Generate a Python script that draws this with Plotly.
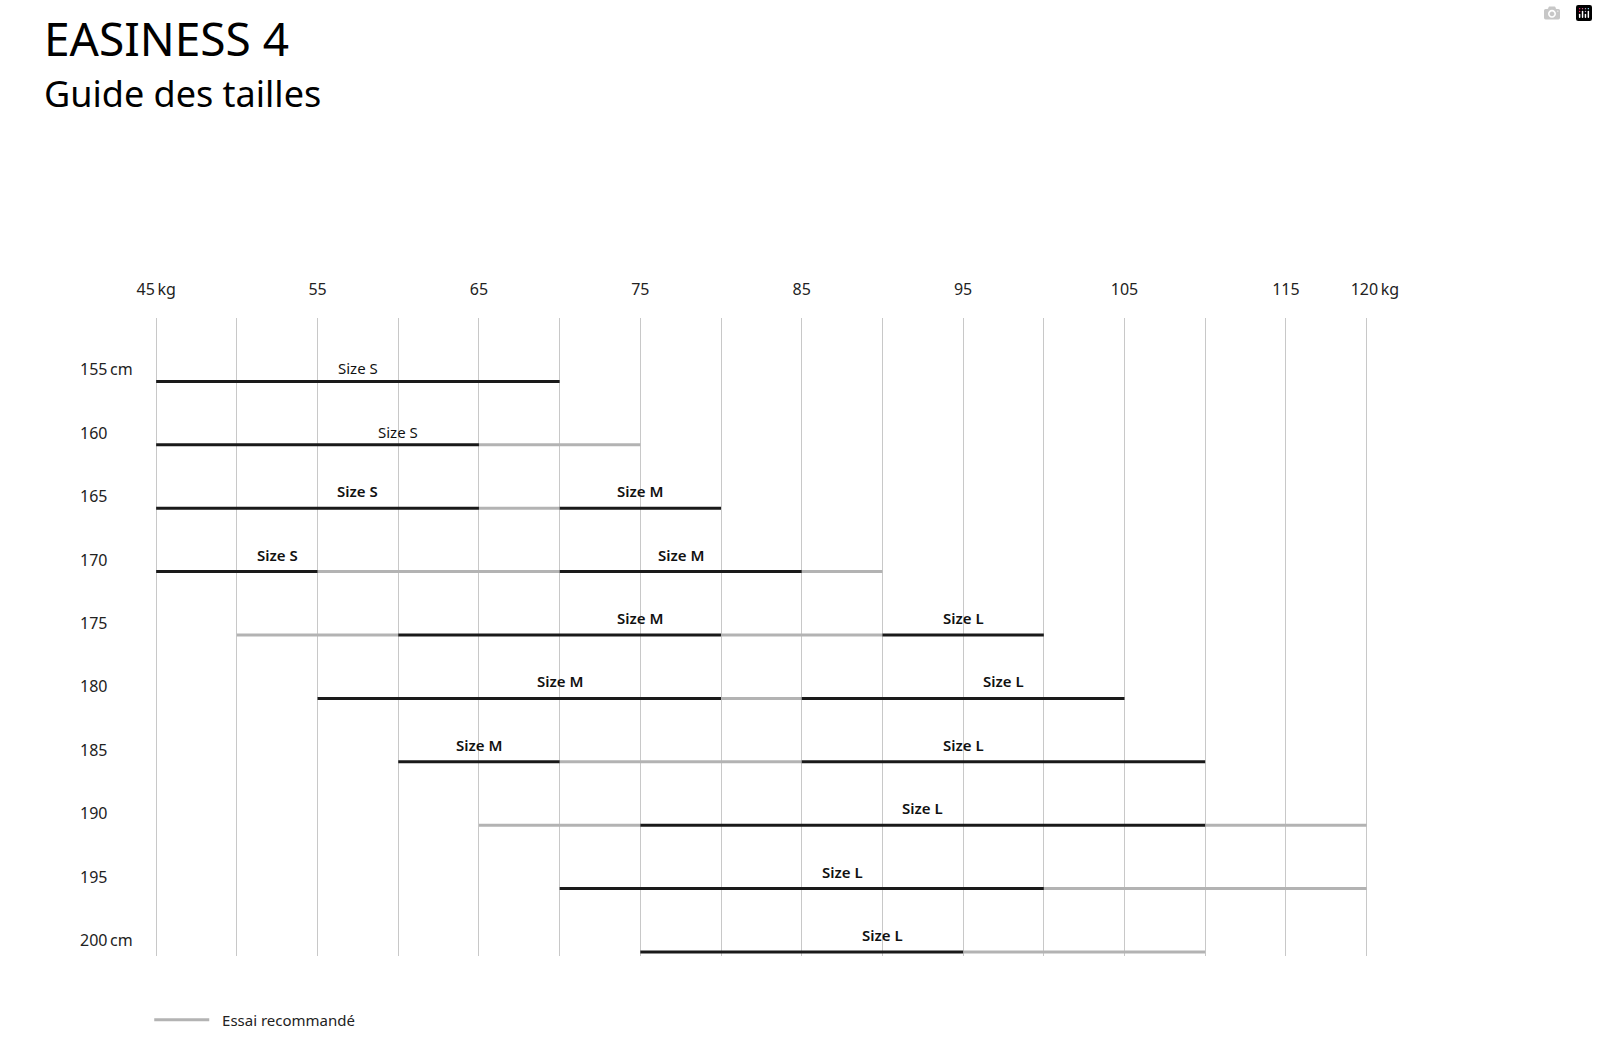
import plotly.graph_objects as go

# ---- data ----
heights = [155, 160, 165, 170, 175, 180, 185, 190, 195, 200]
height_labels = ["155\u2009cm", "160", "165", "170", "175", "180", "185", "190", "195", "200\u2009cm"]

# recommended size ranges (black) per height: list of (start kg, end kg)
recommended = [
    [(45, 70)],
    [(45, 65)],
    [(45, 65), (70, 80)],
    [(45, 55), (70, 85)],
    [(60, 80), (90, 100)],
    [(55, 80), (85, 105)],
    [(60, 70), (85, 110)],
    [(75, 110)],
    [(70, 100)],
    [(75, 95)],
]
# "Essai recommandé" ranges (grey)
trial = [
    [],
    [(65, 75)],
    [(65, 70)],
    [(55, 70), (85, 90)],
    [(50, 60), (80, 90)],
    [(80, 85)],
    [(70, 85)],
    [(65, 75), (110, 120)],
    [(100, 120)],
    [(95, 110)],
]

# size labels: (height, kg, text)
label_heights = [155, 160, 165, 165, 170, 170, 175, 175, 180, 180, 185, 185, 190, 195, 200]
label_kg = [57.5, 60, 57.5, 75, 52.5, 77.5, 75, 95, 70, 97.5, 65, 95, 92.5, 87.5, 90]
label_text = ["Size S", "Size S", "Size S", "Size M", "Size S", "Size M", "Size M", "Size L",
              "Size M", "Size L", "Size M", "Size L", "Size L", "Size L", "Size L"]

tick_vals = [45, 50, 55, 60, 65, 70, 75, 80, 85, 90, 95, 100, 105, 110, 115, 120]
tick_text = ["45\u2009kg", "", "55", "", "65", "", "75", "", "85", "", "95", "", "105", "", "115",
             "\u00a0\u00a0\u00a0\u00a0120\u2009kg"]

title_text = "EASINESS 4"
subtitle_text = "Guide des tailles"
legend_text = "Essai recommandé"

FONT = "Noto Sans"
W, H = 1598, 1061


def build(segs_per_row):
    xs, ys = [], []
    for h, segs in zip(heights, segs_per_row):
        for a, b in segs:
            xs += [a, b, None]
            ys += [h, h, None]
    return xs, ys


gx, gy = build(trial)
bx, by = build(recommended)

fig = go.Figure()
fig.add_trace(go.Scatter(x=gx, y=gy, mode="lines", name="\u00a0\u00a0" + legend_text,
                         line=dict(color="#b3b3b3", width=3), showlegend=True,
                         hoverinfo="skip"))
fig.add_trace(go.Scatter(x=bx, y=by, mode="lines", name="Recommandé",
                         line=dict(color="#1a1a1a", width=3), showlegend=False,
                         hoverinfo="skip"))

annotations = []
# height labels
for h, t in zip(heights, height_labels):
    annotations.append(dict(x=76 / W, xref="paper", y=h, yref="y", yshift=12,
                            text=t, showarrow=False, xanchor="left", yanchor="middle",
                            font=dict(family=FONT, size=16, color="#222222")))
# size labels
for h, k, t in zip(label_heights, label_kg, label_text):
    light = h in (155, 160)
    annotations.append(dict(x=k, xref="x", y=h, yref="y", yshift=13 if light else 17,
                            text=t, showarrow=False, xanchor="center", yanchor="middle",
                            font=dict(family=FONT, size=15, color="#111111",
                                      weight="normal" if light else 600)))
# titles
annotations.append(dict(x=39 / W, xref="paper", y=1 - 5 / H, yref="paper", text=title_text,
                        showarrow=False, xanchor="left", yanchor="top",
                        font=dict(family=FONT, size=46, color="#000000")))
annotations.append(dict(x=39 / W, xref="paper", y=1 - 67 / H, yref="paper", text=subtitle_text,
                        showarrow=False, xanchor="left", yanchor="top",
                        font=dict(family=FONT, size=36, color="#000000")))

x_px0 = 155 - 16.333
x_px1 = 1380 + 16.333
y_bottom_px = 952 + 0.3 * 634 / 50
fig.update_layout(
    width=W, height=H,
    margin=dict(l=0, r=0, t=0, b=0),
    paper_bgcolor="white", plot_bgcolor="white",
    xaxis=dict(range=[44, 121], domain=[x_px0 / W, x_px1 / W], side="top",
               tickvals=tick_vals, ticktext=tick_text, showgrid=True,
               gridcolor="#c8c8c8", gridwidth=1.3, zeroline=False, showline=False,
               ticks="outside", ticklen=16, tickcolor="rgba(0,0,0,0)",
               tickfont=dict(family=FONT, size=16, color="#222222"), fixedrange=True),
    yaxis=dict(range=[200.3, 150], domain=[(H - y_bottom_px) / H, (H - 318) / H],
               showgrid=False, zeroline=False, showline=False, showticklabels=False,
               fixedrange=True),
    showlegend=True,
    legend=dict(x=148 / W, xref="paper", y=(H - 1020) / H, yref="paper",
                xanchor="left", yanchor="middle", itemwidth=55,
                font=dict(family=FONT, size=15, color="#222222"),
                bgcolor="rgba(0,0,0,0)"),
    annotations=annotations,
)

fig.write_html("out.html", post_script="document.body.style.margin='0';")
